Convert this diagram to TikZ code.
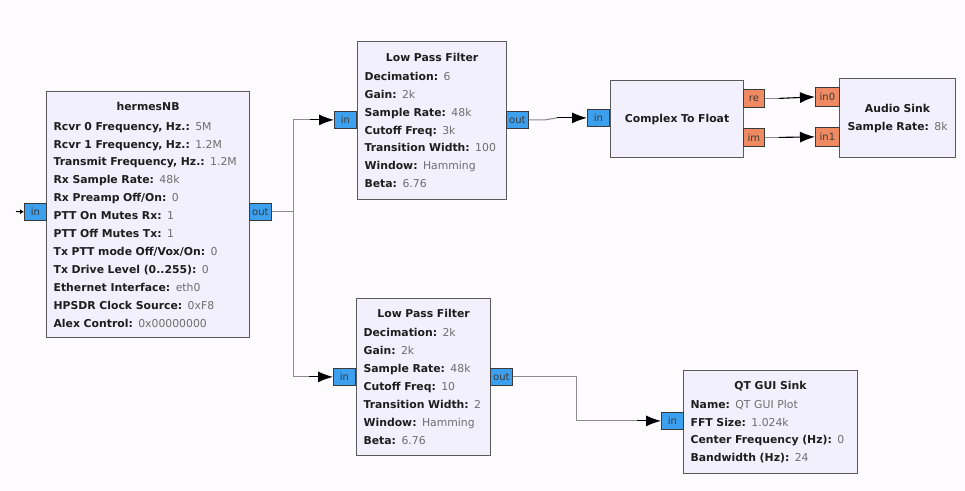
\documentclass[tikz,border=0pt]{standalone}
\usepackage{fontspec}
\setmainfont{DejaVu Sans}
\usetikzlibrary{calc,arrows.meta}
\definecolor{bgc}{HTML}{FDFBFE}
\definecolor{blkfill}{HTML}{F1F0FC}
\definecolor{blkborder}{HTML}{5A5A5A}
\definecolor{portblue}{HTML}{3CA0EE}
\definecolor{portorange}{HTML}{F08A62}
\definecolor{portline}{HTML}{3A3A3A}
\definecolor{valgray}{HTML}{6E6E6E}
\definecolor{labc}{HTML}{1E1E1E}
\definecolor{wire}{HTML}{8C8C8C}
\newcommand\kvline[2]{\mbox{\textbf{#1:} {\color{valgray}#2}}}
\newcommand\blkfont{\fontsize{10.85bp}{17.9bp}\selectfont\color{labc}}
\newcommand\portfont{\fontsize{10bp}{11bp}\selectfont}
\tikzset{
  blk/.style={draw=blkborder, fill=blkfill, line width=1.2bp, rectangle, anchor=north west,
    inner xsep=7bp, inner ysep=0pt, align=left, font=\blkfont},
  portB/.style={draw=portline, fill=portblue, line width=0.8bp, rectangle, inner sep=0pt,
    minimum width=22bp, minimum height=17bp, anchor=north west, font=\portfont, text=portline},
  portO/.style={portB, fill=portorange},
  wirel/.style={draw=wire, line width=1.1bp},
  arrowblk/.style={draw=black, line width=1.1bp, -{Latex[length=15bp,width=11bp]}},
}
\begin{document}
\begin{tikzpicture}[x=1bp,y=-1bp]
\fill[bgc] (0,0) rectangle (965,491);
\useasboundingbox (0,0) rectangle (965,491);

% hermesNB
\node[blk, text width=189bp, minimum height=246bp] (hermes) at (46,91) {%
\makebox[\linewidth]{\textbf{hermesNB}}\\[2bp]
\kvline{Rcvr 0 Frequency, Hz.}{5M}\\
\kvline{Rcvr 1 Frequency, Hz.}{1.2M}\\
\kvline{Transmit Frequency, Hz.}{1.2M}\\
\kvline{Rx Sample Rate}{48k}\\
\kvline{Rx Preamp Off/On}{0}\\
\kvline{PTT On Mutes Rx}{1}\\
\kvline{PTT Off Mutes Tx}{1}\\
\kvline{Tx PTT mode Off/Vox/On}{0}\\
\kvline{Tx Drive Level (0..255)}{0}\\
\kvline{Ethernet Interface}{eth0}\\
\kvline{HPSDR Clock Source}{0xF8}\\
\kvline{Alex Control}{0x00000000}};
\node[portB] (hin) at (24,203) {in};
\node[portB] (hout) at (249,203) {out};

% LPF 1
\node[blk, text width=135bp, minimum height=158bp] (lpfa) at (357,41) {%
\makebox[\linewidth]{\textbf{Low Pass Filter}}\\[1bp]
\kvline{Decimation}{6}\\
\kvline{Gain}{2k}\\
\kvline{Sample Rate}{48k}\\
\kvline{Cutoff Freq}{3k}\\
\kvline{Transition Width}{100}\\
\kvline{Window}{Hamming}\\
\kvline{Beta}{6.76}};
\node[portB] (lain) at (334,111) {in};
\node[portB] (laout) at (506,111) {out};

% LPF 2
\node[blk, text width=120bp, minimum height=157bp] (lpfb) at (356,298) {%
\makebox[\linewidth]{\textbf{Low Pass Filter}}\\[1bp]
\kvline{Decimation}{2k}\\
\kvline{Gain}{2k}\\
\kvline{Sample Rate}{48k}\\
\kvline{Cutoff Freq}{10}\\
\kvline{Transition Width}{2}\\
\kvline{Window}{Hamming}\\
\kvline{Beta}{6.76}};
\node[portB] (lbin) at (333,368) {in};
\node[portB] (lbout) at (490,368) {out};

% Complex To Float
\node[blk, text width=119bp, minimum height=77bp, align=center] (ctf) at (610,80) {\mbox{\textbf{Complex To Float}}};
\node[portB] (cin) at (587,109) {in};
\node[portO, minimum width=21bp, minimum height=18bp] (cre) at (743,89) {re};
\node[portO, minimum width=21bp, minimum height=18bp] (cim) at (743,128) {im};

% Audio Sink
\node[blk, text width=102bp, minimum height=79bp, align=center] (asink) at (839,78) {\textbf{Audio Sink}\\\kvline{Sample Rate}{8k}};
\node[portO, minimum width=24bp, minimum height=19bp] (ain0) at (815,87) {in0};
\node[portO, minimum width=24bp, minimum height=19bp] (ain1) at (815,127) {in1};

% QT GUI Sink
\node[blk, text width=160bp, minimum height=103bp] (qt) at (683,370) {%
\makebox[\linewidth]{\textbf{QT GUI Sink}}\\[1bp]
\kvline{Name}{QT GUI Plot}\\
\kvline{FFT Size}{1.024k}\\
\kvline{Center Frequency (Hz)}{0}\\
\kvline{Bandwidth (Hz)}{24}};
\node[portB] (qin) at (661,412) {in};

% connectors
\coordinate (hstub) at (16,211.5);
\draw[black, line width=1.1bp, -{Latex[length=4bp,width=5bp]}] (hstub) -- (hin.west);

\draw[wirel] (hout.east) -- ++(22,0) coordinate (split) |- ($(lain.west)+(-24,0)$);
\draw[arrowblk] ($(lain.west)+(-24,0)$) -- (lain.west);
\draw[wirel] (split) |- ($(lbin.west)+(-24,0)$);
\draw[arrowblk] ($(lbin.west)+(-24,0)$) -- (lbin.west);

\draw[wirel] (laout.east) -- ++(16,0) -- ($(cin.west)+(-30,0)$);
\draw[arrowblk] ($(cin.west)+(-30,0)$) -- (cin.west);

\draw[wirel] (lbout.east) -- ++(64,0) |- ($(qin.west)+(-24,0)$);
\draw[arrowblk] ($(qin.west)+(-24,0)$) -- (qin.west);

\draw[wirel] (cre.east) -- ++(14,0);
\draw[arrowblk] ($(cre.east)+(14,0)$) -- (ain0.west);
\draw[wirel] (cim.east) -- ++(14,0);
\draw[arrowblk] ($(cim.east)+(14,0)$) -- (ain1.west);
\end{tikzpicture}
\end{document}
